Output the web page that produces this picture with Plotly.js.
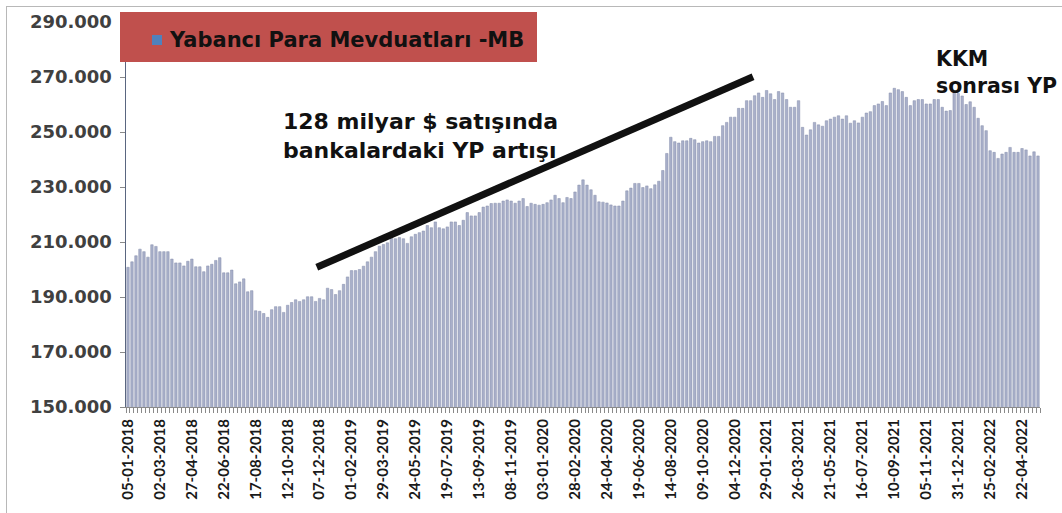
<!DOCTYPE html>
<html>
<head>
<meta charset="utf-8">
<script src="https://cdn.plot.ly/plotly-3.0.1.min.js"></script>
<style>
  html, body { margin:0; padding:0; background:#ffffff; }
  #wrap { position:relative; width:1062px; height:513px; overflow:hidden; }
  #chart { position:absolute; left:0; top:0; width:1062px; height:513px; }
  #frame { position:absolute; left:6px; top:6px; width:1200px; height:1000px; border:1px solid #b8b8b8; pointer-events:none; }
</style>
</head>
<body>
<div id="wrap"><div id="chart"></div><div id="frame"></div></div>
<script>
// Weekly foreign-currency deposits (thousand units shown as "xxx.000")
const startDate = '2018-01-05';
const values = [
  200.8,202.8,205.0,207.4,206.5,204.5,209.0,208.4,206.5,206.5,
  206.5,203.8,202.4,202.4,201.3,203.0,203.8,201.0,201.0,199.2,
  201.3,201.9,203.3,204.3,198.8,198.8,199.8,194.8,195.5,196.6,
  191.9,192.3,185.0,184.8,184.0,182.6,185.4,186.5,186.5,184.4,
  187.0,188.0,189.0,188.4,189.0,190.1,190.1,188.4,189.5,189.0,
  193.2,192.7,190.9,192.3,194.6,197.3,199.6,199.6,200.0,201.2,
  202.8,204.5,206.5,208.5,209.1,209.7,213.6,211.2,211.6,211.2,
  209.5,211.9,212.8,213.4,214.0,216.0,215.2,217.3,215.2,214.8,
  215.5,217.3,217.3,216.0,217.9,220.7,219.5,219.5,220.7,222.7,
  223.1,224.0,224.1,224.1,224.9,225.3,224.9,224.1,224.9,225.8,
  222.9,224.1,223.7,223.4,223.7,224.3,225.3,227.0,225.8,224.3,
  226.2,225.8,228.2,230.7,232.6,230.7,229.0,227.0,224.6,224.5,
  224.2,223.5,223.1,223.1,224.9,228.6,229.6,231.3,231.3,229.8,
  230.4,229.4,230.8,232.1,236.0,242.2,248.1,246.5,246.0,246.8,
  246.8,247.7,247.2,246.0,246.5,246.8,246.5,248.4,248.4,252.3,
  253.5,255.4,255.4,258.6,258.6,261.4,261.4,263.2,264.2,262.6,
  265.1,263.9,261.8,264.7,264.2,261.8,259.0,259.0,261.4,251.7,
  248.9,250.8,253.5,252.6,252.1,254.1,254.7,255.4,255.9,254.7,
  255.9,253.2,254.1,253.3,255.4,256.9,257.4,259.6,260.2,261.1,
  259.6,264.2,265.9,265.4,264.7,262.6,259.6,261.4,261.8,261.8,
  260.2,260.2,261.8,261.8,259.0,257.6,257.8,264.5,264.0,263.1,
  260.0,261.0,259.0,255.0,252.3,250.5,243.2,242.6,240.4,242.0,
  242.6,244.4,242.6,242.6,244.0,243.5,241.3,242.8,241.3
];
const tickLabels = [
  '05-01-2018','02-03-2018','27-04-2018','22-06-2018','17-08-2018','12-10-2018',
  '07-12-2018','01-02-2019','29-03-2019','24-05-2019','19-07-2019','13-09-2019',
  '08-11-2019','03-01-2020','28-02-2020','24-04-2020','19-06-2020','14-08-2020',
  '09-10-2020','04-12-2020','29-01-2021','26-03-2021','21-05-2021','16-07-2021',
  '10-09-2021','05-11-2021','31-12-2021','25-02-2022','22-04-2022'
];
const yTickVals = [150,170,190,210,230,250,270,290];
const yTickText = ['150.000','170.000','190.000','210.000','230.000','250.000','270.000','290.000'];
const seriesName = 'Yabancı Para Mevduatları -MB';
const note1 = '128 milyar $ satışında<br>bankalardaki YP artışı';
const note2 = 'KKM<br>sonrası YP';

// weekly category labels
function pad(n){ return (n<10?'0':'')+n; }
const categories = [];
const d0 = new Date(startDate + 'T00:00:00Z');
for (let i=0;i<values.length;i++){
  const d = new Date(d0.getTime() + i*7*86400000);
  categories.push(pad(d.getUTCDate())+'-'+pad(d.getUTCMonth()+1)+'-'+d.getUTCFullYear());
}
const tickText = categories.map(c => tickLabels.indexOf(c) >= 0 ? c : '');

// plot-area helpers (pixel -> paper)
const L=126, R=22, T=22, B=106, W=1062, H=513;
const PW = W-L-R, PH = H-T-B;
const fx = px => (px-L)/PW;
const fy = py => (H-B-py)/PH;

const trace = {
  type:'bar', x:categories, y:values, name:seriesName,
  marker:{color:'#a9b0ca', line:{color:'#858daa', width:0.5}},
  showlegend:false, hoverinfo:'x+y'
};

const bold = {family:'DejaVu Sans', weight:700, color:'#111111'};

const layout = {
  width:W, height:H,
  margin:{l:L, r:R, t:T, b:B, pad:0},
  paper_bgcolor:'rgba(0,0,0,0)', plot_bgcolor:'#ffffff',
  bargap:0.38,
  xaxis:{
    type:'category', range:[-0.5, values.length-0.5],
    tickmode:'array', tickvals:categories, ticktext:tickText,
    tickangle:-90, ticks:'outside', ticklen:5, tickcolor:'#8a8a8a', tickson:'boundaries',
    ticklabelstandoff:5,
    showline:true, linecolor:'#8a8a8a', linewidth:1, showgrid:false, zeroline:false,
    tickfont:{family:'Lato', size:15, weight:700, color:'#1a1a1a'}
  },
  yaxis:{
    range:[150,290], tickmode:'array', tickvals:yTickVals, ticktext:yTickText,
    ticks:'outside', ticklen:5, tickcolor:'#8a8a8a', ticklabelstandoff:4,
    showline:true, linecolor:'#5a6680', linewidth:1.5, showgrid:false, zeroline:false,
    tickfont:{family:'DejaVu Sans', size:18, weight:700, color:'#404040'}
  },
  shapes:[
    {type:'line', xref:'x', yref:'y', x0:47.3, y0:200.8, x1:156.6, y1:270.1,
     line:{color:'#111111', width:7}, layer:'above'},
    {type:'rect', xref:'paper', yref:'paper', x0:fx(120), x1:fx(537), y0:fy(62), y1:fy(12),
     fillcolor:'#c0504d', line:{width:0}, layer:'above'},
    {type:'rect', xref:'paper', yref:'paper', x0:fx(152), x1:fx(162), y0:fy(45), y1:fy(35),
     fillcolor:'#4f81bd', line:{width:0}, layer:'above'}
  ],
  annotations:[
    {xref:'paper', yref:'paper', x:fx(167), y:fy(40), xanchor:'left', yanchor:'middle',
     text:seriesName, showarrow:false, font:Object.assign({size:21}, bold)},
    {xref:'paper', yref:'paper', x:fx(281), y:fy(136), xanchor:'left', yanchor:'middle', align:'left',
     text:note1, showarrow:false, font:Object.assign({size:22}, bold)},
    {xref:'paper', yref:'paper', x:fx(934), y:fy(72), xanchor:'left', yanchor:'middle', align:'left',
     text:note2, showarrow:false, font:Object.assign({size:20.5}, bold)}
  ]
};

Plotly.newPlot('chart', [trace], layout, {staticPlot:true, displayModeBar:false});
</script>
</body>
</html>
